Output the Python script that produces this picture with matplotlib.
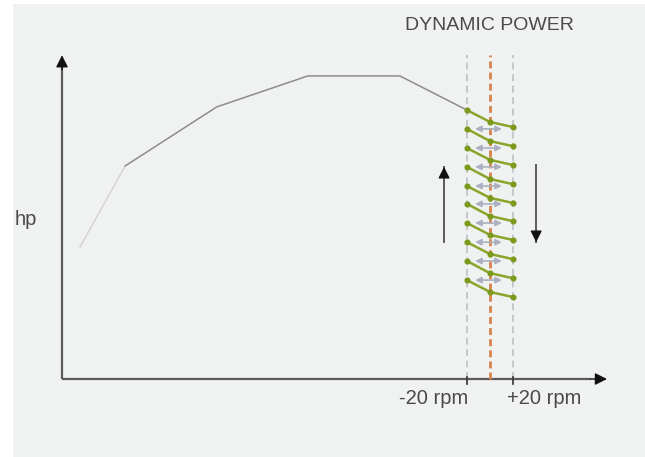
import matplotlib
matplotlib.use("Agg")
import matplotlib.pyplot as plt
from matplotlib.patches import Rectangle

plt.rcParams['font.family'] = ['Liberation Sans', 'DejaVu Sans']

# power curve (rpm %, hp %)
curve_rpm = [3.3, 11.6, 28.4, 45.1, 62.0, 74.3]
curve_hp = [41.4, 66.8, 85.3, 95.0, 95.0, 84.3]

# dynamic band: -20 rpm, nominal, +20 rpm
band_rpm = [74.3, 78.5, 82.7]
band_labels = ["-20 rpm", "+20 rpm"]

# oscillating segments: hp at left, middle and right of the band
osc_left = [84.3, 78.4, 72.4, 66.5, 60.5, 54.9, 48.9, 42.9, 37.0, 31.0]
osc_mid = [80.6, 74.6, 68.7, 62.7, 56.8, 51.1, 45.2, 39.2, 33.2, 27.3]
osc_right = [79.0, 73.0, 67.1, 61.1, 55.2, 49.5, 43.6, 37.6, 31.6, 25.7]

# direction arrows (x, from, to)
up_arrow = (70.1, 42.9, 66.5)
down_arrow = (87.0, 67.1, 42.9)

bg = '#f0f1f1'
txt = '#4a4a4a'
fig = plt.figure(figsize=(6.45, 4.57), dpi=100)
fig.patch.set_facecolor(bg)
fig.patches.append(Rectangle((0, 0), 13 / 645, 1, transform=fig.transFigure,
                             facecolor='white', edgecolor='none'))
fig.patches.append(Rectangle((0, 1 - 4 / 457), 1, 4 / 457, transform=fig.transFigure,
                             facecolor='white', edgecolor='none'))

ax = fig.add_axes([0, 0, 1, 1])
ax.set_facecolor('none')
ax.set_xlim(-11.376, 106.97)
ax.set_ylim(-24.45, 118.81)
ax.axis('off')

# axes: gray shafts, black heads
ax.plot([0, 0], [0, 98], color='#5a5a5a', lw=1.6, solid_capstyle='butt')
ax.plot([0, 97], [0, 0], color='#5a5a5a', lw=1.6, solid_capstyle='butt')
ax.annotate('', xy=(0, 101.5), xytext=(0, 97),
            arrowprops=dict(arrowstyle='-|>', color='#111', lw=1.0,
                            mutation_scale=18, shrinkA=0, shrinkB=0))
ax.annotate('', xy=(100, 0), xytext=(97, 0),
            arrowprops=dict(arrowstyle='-|>', color='#111', lw=1.0,
                            mutation_scale=18, shrinkA=0, shrinkB=0))

# power curve, fading in at the start
ax.plot(curve_rpm[:2], curve_hp[:2], color='#d4d4d4', lw=1.1)
ax.plot(curve_rpm[1:], curve_hp[1:], color='#8c8c8c', lw=1.1)

# band lines
ax.plot([band_rpm[0]] * 2, [0, 101.6], color='#babcc2', lw=1.1, ls=(0, (4.5, 3)))
ax.plot([band_rpm[2]] * 2, [0, 101.6], color='#babcc2', lw=1.1, ls=(0, (4.5, 3)))
ax.plot([band_rpm[1]] * 2, [0, 101.6], color='#d8814c', lw=2.0, ls=(0, (2.5, 1.5)))

# ticks on the rpm axis
for r in (band_rpm[0], band_rpm[2]):
    ax.plot([r, r], [-1.5, 0.5], color='#333', lw=1.2)

# gray double arrows between the segments
for h in osc_left[1:]:
    ax.annotate('', xy=(80.7, h), xytext=(75.8, h),
                arrowprops=dict(arrowstyle='<|-|>', color='#aab1c0', lw=1.2,
                                mutation_scale=9, shrinkA=0, shrinkB=0))

# green oscillation segments
for a, b, c in zip(osc_left, osc_mid, osc_right):
    ax.plot(band_rpm, [a, b, c], color='#8aa52b', lw=1.8,
            marker='o', ms=3.4, mfc='#7b9a1c', mec='#7b9a1c')

# direction arrows: gray shaft, black head
for x, y0, y1 in (up_arrow, down_arrow):
    ax.plot([x, x], [y0, y1], color='#5a5a5a', lw=1.4)
    ax.annotate('', xy=(x, y1), xytext=(x, y1 - (y1 - y0) * 0.1),
                arrowprops=dict(arrowstyle='-|>', color='#111', lw=1.0,
                                mutation_scale=17, shrinkA=0, shrinkB=0))

# texts
ax.text(band_rpm[1], 110.7, "DYNAMIC POWER", ha='center', va='center',
        fontsize=14, color=txt)
ax.text(-4.6, 50, "hp", ha='right', va='center', fontsize=14.5, color=txt)
ax.text(band_rpm[0] + 0.2, -6.2, band_labels[0], ha='right', va='center',
        fontsize=14.5, color=txt)
ax.text(band_rpm[2] - 1.0, -6.2, band_labels[1], ha='left', va='center',
        fontsize=14.5, color=txt)

fig.savefig('out.png', dpi=100, facecolor=bg)
